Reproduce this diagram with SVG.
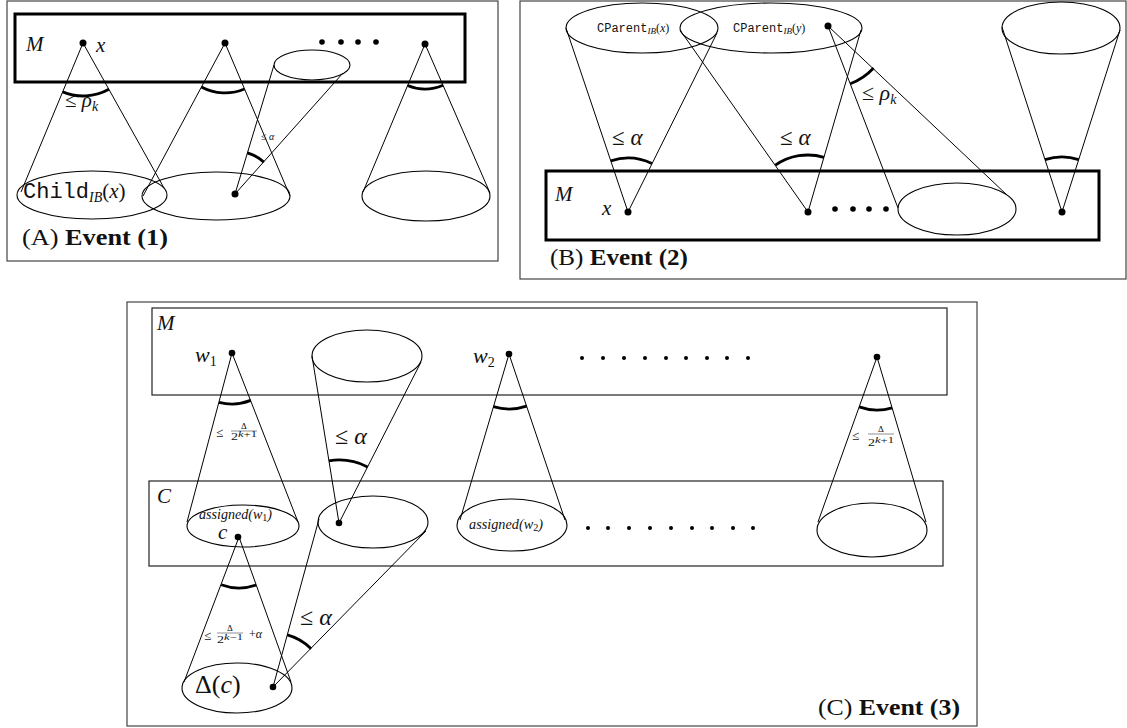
<svg xmlns="http://www.w3.org/2000/svg" width="1127" height="728" viewBox="0 0 1127 728">
<style>
.frame{fill:none;stroke:#444;stroke-width:1.2}
.thick{fill:none;stroke:#000;stroke-width:3}
.thin{fill:none;stroke:#222;stroke-width:1.2}
.ln{fill:none;stroke:#000;stroke-width:1}
.el{fill:none;stroke:#000;stroke-width:1.1}
.arc{fill:none;stroke:#000;stroke-width:2.8}
.dot{fill:#000}
text{font-family:"Liberation Serif",serif;fill:#111}
.it{font-style:italic}
.mono{font-family:"Liberation Mono",monospace}
.cap{font-size:23px}
.b{font-weight:bold}
.fb{stroke:#444;stroke-width:0.6}
</style>
<rect width="1127" height="728" fill="#fff"/>

<!-- Panel A -->
<g id="panelA">
  <rect class="frame" x="7" y="1" width="491" height="260"/>
  <rect id="A-M" class="thick" x="15" y="14" width="450" height="68"/>
  <text x="26" y="51" font-size="21" class="it">M</text>
  <text x="96" y="52" font-size="21" class="it">x</text>
  <g id="A-ellipses">
    <ellipse id="A-child" class="el" cx="92" cy="195" rx="75" ry="24"/>
    <ellipse id="A-e2" class="el" cx="216" cy="196" rx="74" ry="24"/>
    <ellipse id="A-small" class="el" cx="312" cy="65" rx="38" ry="15"/>
    <ellipse id="A-e4" class="el" cx="426" cy="196" rx="64" ry="25"/>
  </g>
  <g id="A-connectors">
    <line class="ln" x1="83" y1="43" x2="21" y2="192"/>
    <line class="ln" x1="83" y1="43" x2="164" y2="188"/>
    <line class="ln" x1="225" y1="43" x2="143" y2="196"/>
    <line class="ln" x1="225" y1="43" x2="290" y2="196"/>
    <line class="ln" x1="235" y1="194" x2="274" y2="65"/>
    <line class="ln" x1="235" y1="194" x2="343" y2="73"/>
    <line class="ln" x1="425" y1="44" x2="363" y2="192"/>
    <line class="ln" x1="425" y1="44" x2="490" y2="193"/>
    <path class="arc" d="M62.6 91.9 A53 53 0 0 0 108.9 89.3"/>
    <path class="arc" d="M201.4 87 A50 50 0 0 0 244.5 89"/>
    <path class="arc" d="M407.6 85.5 A45 45 0 0 0 443 85.2"/>
    <path class="arc" d="M247.4 152.8 A43 43 0 0 1 263.8 162.1"/>
  </g>
  <g id="A-dots">
    <circle class="dot" cx="83" cy="43" r="3.5"/>
    <circle class="dot" cx="225" cy="43" r="3.5"/>
    <circle class="dot" cx="425" cy="44" r="3.5"/>
    <circle class="dot" cx="235" cy="194" r="3.5"/>
    <circle class="dot" cx="322" cy="42" r="2.8"/>
    <circle class="dot" cx="341" cy="42" r="2.8"/>
    <circle class="dot" cx="358" cy="42" r="2.8"/>
    <circle class="dot" cx="376" cy="42" r="2.8"/>
  </g>
  <text x="23" y="198" font-size="21"><tspan class="mono" font-size="22">Child</tspan><tspan class="it" font-size="14" dy="4">IB</tspan><tspan dy="-4">(</tspan><tspan class="it">x</tspan><tspan>)</tspan></text>
  <text x="65" y="107" font-size="21">≤ <tspan class="it">ρ</tspan><tspan class="it" font-size="14" dy="4">k</tspan></text>
  <text x="261" y="140" font-size="10" fill="#333">≤ <tspan class="it">α</tspan></text>
  <text x="22" y="245" class="cap" textLength="146" lengthAdjust="spacingAndGlyphs">(A) <tspan class="b">Event (1)</tspan></text>
</g>

<!-- Panel B -->
<g id="panelB">
  <rect class="frame" x="520" y="1" width="606" height="278"/>
  <rect id="B-M" class="thick" x="546" y="171" width="553" height="69"/>
  <text x="555" y="201" font-size="21" class="it">M</text>
  <text x="602" y="215" font-size="21" class="it">x</text>
  <g id="B-ellipses">
    <ellipse id="B-cpx" class="el" cx="642" cy="28" rx="76" ry="25"/>
    <ellipse id="B-cpy" class="el" cx="771" cy="28" rx="91" ry="25"/>
    <ellipse id="B-bottom" class="el" cx="957" cy="209" rx="59" ry="26"/>
    <ellipse id="B-righttop" class="el" cx="1061" cy="28" rx="59" ry="26"/>
  </g>
  <g id="B-connectors">
    <line class="ln" x1="628" y1="212" x2="566" y2="28"/>
    <line class="ln" x1="628" y1="212" x2="717" y2="33"/>
    <line class="ln" x1="808" y1="212" x2="680" y2="30"/>
    <line class="ln" x1="808" y1="212" x2="861" y2="30"/>
    <line class="ln" x1="828" y1="26" x2="898" y2="208"/>
    <line class="ln" x1="828" y1="26" x2="1007" y2="195"/>
    <line class="ln" x1="1062" y1="212" x2="1002" y2="27"/>
    <line class="ln" x1="1062" y1="212" x2="1120" y2="30"/>
    <path class="arc" d="M610.8 160.9 A54 54 0 0 1 651.9 163.6"/>
    <path class="arc" d="M775.4 165.2 A57 57 0 0 1 824 157.3"/>
    <path class="arc" d="M850.3 83.8 A62 62 0 0 0 873.6 68"/>
    <path class="arc" d="M1045 159.7 A55 55 0 0 1 1078.7 159.6"/>
  </g>
  <g id="B-dots">
    <circle class="dot" cx="628" cy="212" r="3.5"/>
    <circle class="dot" cx="808" cy="212" r="3.5"/>
    <circle class="dot" cx="1062" cy="212" r="3.5"/>
    <circle class="dot" cx="828" cy="26" r="3.5"/>
    <circle class="dot" cx="835" cy="209" r="2.8"/>
    <circle class="dot" cx="853" cy="209" r="2.8"/>
    <circle class="dot" cx="869" cy="209" r="2.8"/>
    <circle class="dot" cx="886" cy="209" r="2.8"/>
  </g>
  <text x="597" y="32" font-size="12"><tspan class="mono">CParent</tspan><tspan class="it" font-size="9" dy="2">IB</tspan><tspan dy="-2">(</tspan><tspan class="it">x</tspan><tspan>)</tspan></text>
  <text x="733" y="32" font-size="12"><tspan class="mono">CParent</tspan><tspan class="it" font-size="9" dy="2">IB</tspan><tspan dy="-2">(</tspan><tspan class="it">y</tspan><tspan>)</tspan></text>
  <text x="612" y="145" font-size="23">≤ <tspan class="it">α</tspan></text>
  <text x="780" y="145" font-size="23">≤ <tspan class="it">α</tspan></text>
  <text x="862" y="100" font-size="22">≤ <tspan class="it">ρ</tspan><tspan class="it" font-size="14" dy="4">k</tspan></text>
  <text x="550" y="265" class="cap" textLength="138" lengthAdjust="spacingAndGlyphs">(B) <tspan class="b">Event (2)</tspan></text>
</g>

<!-- Panel C -->
<g id="panelC">
  <rect class="frame" x="127" y="302" width="850" height="424"/>
  <rect id="C-M" class="thin" x="152" y="308" width="795" height="87"/>
  <rect id="C-C" class="thin" x="149" y="481" width="794" height="85"/>
  <text x="157" y="330" font-size="21" class="it">M</text>
  <text x="157" y="503" font-size="21" class="it">C</text>
  <text x="195" y="362" font-size="22" class="it">w<tspan font-size="14" dy="4" font-style="normal">1</tspan></text>
  <text x="473" y="363" font-size="22" class="it">w<tspan font-size="14" dy="4" font-style="normal">2</tspan></text>
  <g id="C-ellipses">
    <ellipse id="C-top" class="el" cx="367" cy="356" rx="55" ry="26"/>
    <ellipse id="C-aw1" class="el" cx="243" cy="526" rx="56" ry="21"/>
    <ellipse id="C-mid" class="el" cx="373" cy="522" rx="55" ry="26"/>
    <ellipse id="C-aw2" class="el" cx="512" cy="525" rx="55" ry="26"/>
    <ellipse id="C-right" class="el" cx="872" cy="530" rx="55" ry="27"/>
    <ellipse id="C-delta" class="el" cx="237" cy="688" rx="55" ry="25"/>
  </g>
  <g id="C-connectors">
    <line class="ln" x1="232" y1="353" x2="187" y2="522"/>
    <line class="ln" x1="232" y1="353" x2="298" y2="522"/>
    <line class="ln" x1="339" y1="523" x2="312" y2="356"/>
    <line class="ln" x1="339" y1="523" x2="421" y2="362"/>
    <line class="ln" x1="509" y1="354" x2="460" y2="520"/>
    <line class="ln" x1="509" y1="354" x2="565" y2="520"/>
    <line class="ln" x1="877" y1="357" x2="818" y2="522"/>
    <line class="ln" x1="877" y1="357" x2="926" y2="522"/>
    <line class="ln" x1="239" y1="537" x2="184" y2="682"/>
    <line class="ln" x1="239" y1="537" x2="291" y2="682"/>
    <line class="ln" x1="273" y1="687" x2="319" y2="519"/>
    <line class="ln" x1="273" y1="687" x2="426" y2="531"/>
    <path class="arc" d="M219 402.3 A51 51 0 0 0 250.7 400.4"/>
    <path class="arc" d="M328.9 460.8 A63 63 0 0 1 367.6 466.9"/>
    <path class="arc" d="M493.4 406.7 A55 55 0 0 0 526.6 406.1"/>
    <path class="arc" d="M859.1 406.9 A53 53 0 0 0 892.1 407.8"/>
    <path class="arc" d="M221.2 584.7 A51 51 0 0 0 256.1 585"/>
    <path class="arc" d="M287.3 634.9 A54 54 0 0 1 311.1 648.7"/>
  </g>
  <g id="C-dots">
    <circle class="dot" cx="232" cy="353" r="3.3"/>
    <circle class="dot" cx="509" cy="354" r="3.3"/>
    <circle class="dot" cx="877" cy="357" r="3.3"/>
    <circle class="dot" cx="339" cy="523" r="3.3"/>
    <circle class="dot" cx="238" cy="537" r="3.3"/>
    <circle class="dot" cx="273" cy="687" r="3.3"/>
    <g id="C-Mdots">
      <circle class="dot" cx="582" cy="358" r="2"/>
      <circle class="dot" cx="603" cy="358" r="2"/>
      <circle class="dot" cx="624" cy="358" r="2"/>
      <circle class="dot" cx="645" cy="358" r="2"/>
      <circle class="dot" cx="666" cy="358" r="2"/>
      <circle class="dot" cx="686" cy="358" r="2"/>
      <circle class="dot" cx="707" cy="358" r="2"/>
      <circle class="dot" cx="727" cy="358" r="2"/>
      <circle class="dot" cx="748" cy="358" r="2"/>
    </g>
    <g id="C-Cdots">
      <circle class="dot" cx="588" cy="528" r="2"/>
      <circle class="dot" cx="608" cy="528" r="2"/>
      <circle class="dot" cx="629" cy="528" r="2"/>
      <circle class="dot" cx="650" cy="528" r="2"/>
      <circle class="dot" cx="671" cy="528" r="2"/>
      <circle class="dot" cx="692" cy="528" r="2"/>
      <circle class="dot" cx="712" cy="528" r="2"/>
      <circle class="dot" cx="733" cy="528" r="2"/>
      <circle class="dot" cx="753" cy="528" r="2"/>
    </g>
  </g>
  <text x="199" y="519" font-size="14" class="it" textLength="73" lengthAdjust="spacingAndGlyphs">assigned(w<tspan font-size="10" dy="2" font-style="normal">1</tspan><tspan dy="-2">)</tspan></text>
  <text x="469" y="529" font-size="14" class="it" textLength="74" lengthAdjust="spacingAndGlyphs">assigned(w<tspan font-size="10" dy="2" font-style="normal">2</tspan><tspan dy="-2">)</tspan></text>
  <text x="218" y="539" font-size="21" class="it">c</text>
  <text x="195" y="693" font-size="26">Δ(<tspan class="it">c</tspan>)</text>
  <text x="335" y="444" font-size="24">≤ <tspan class="it">α</tspan></text>
  <text x="300" y="625" font-size="24">≤ <tspan class="it">α</tspan></text>
  <g id="C-frac1" fill="#333">
    <text x="216" y="437" font-size="13">≤</text>
    <text x="244" y="429" font-size="9" text-anchor="middle">Δ</text>
    <line class="fb" x1="231" y1="431" x2="257" y2="431"/>
    <text x="231" y="440" font-size="10" textLength="26" lengthAdjust="spacingAndGlyphs">2<tspan font-size="9" dy="-3" class="it">k</tspan><tspan font-size="9">+1</tspan></text>
  </g>
  <g id="C-frac2" fill="#333">
    <text x="852" y="440" font-size="13">≤</text>
    <text x="881" y="432" font-size="9" text-anchor="middle">Δ</text>
    <line class="fb" x1="868" y1="434" x2="894" y2="434"/>
    <text x="868" y="446" font-size="10" textLength="26" lengthAdjust="spacingAndGlyphs">2<tspan font-size="9" dy="-3" class="it">k</tspan><tspan font-size="9">+1</tspan></text>
  </g>
  <g id="C-frac3" fill="#333">
    <text x="204" y="640" font-size="13">≤</text>
    <text x="230" y="631" font-size="9" text-anchor="middle">Δ</text>
    <line class="fb" x1="217" y1="633" x2="243" y2="633"/>
    <text x="217" y="643" font-size="10" textLength="26" lengthAdjust="spacingAndGlyphs">2<tspan font-size="9" dy="-3" class="it">k</tspan><tspan font-size="9">−1</tspan></text>
    <text x="249" y="638" font-size="12">+<tspan class="it">α</tspan></text>
  </g>
  <text x="818" y="715" class="cap" textLength="142" lengthAdjust="spacingAndGlyphs">(C) <tspan class="b">Event (3)</tspan></text>
</g>
</svg>
